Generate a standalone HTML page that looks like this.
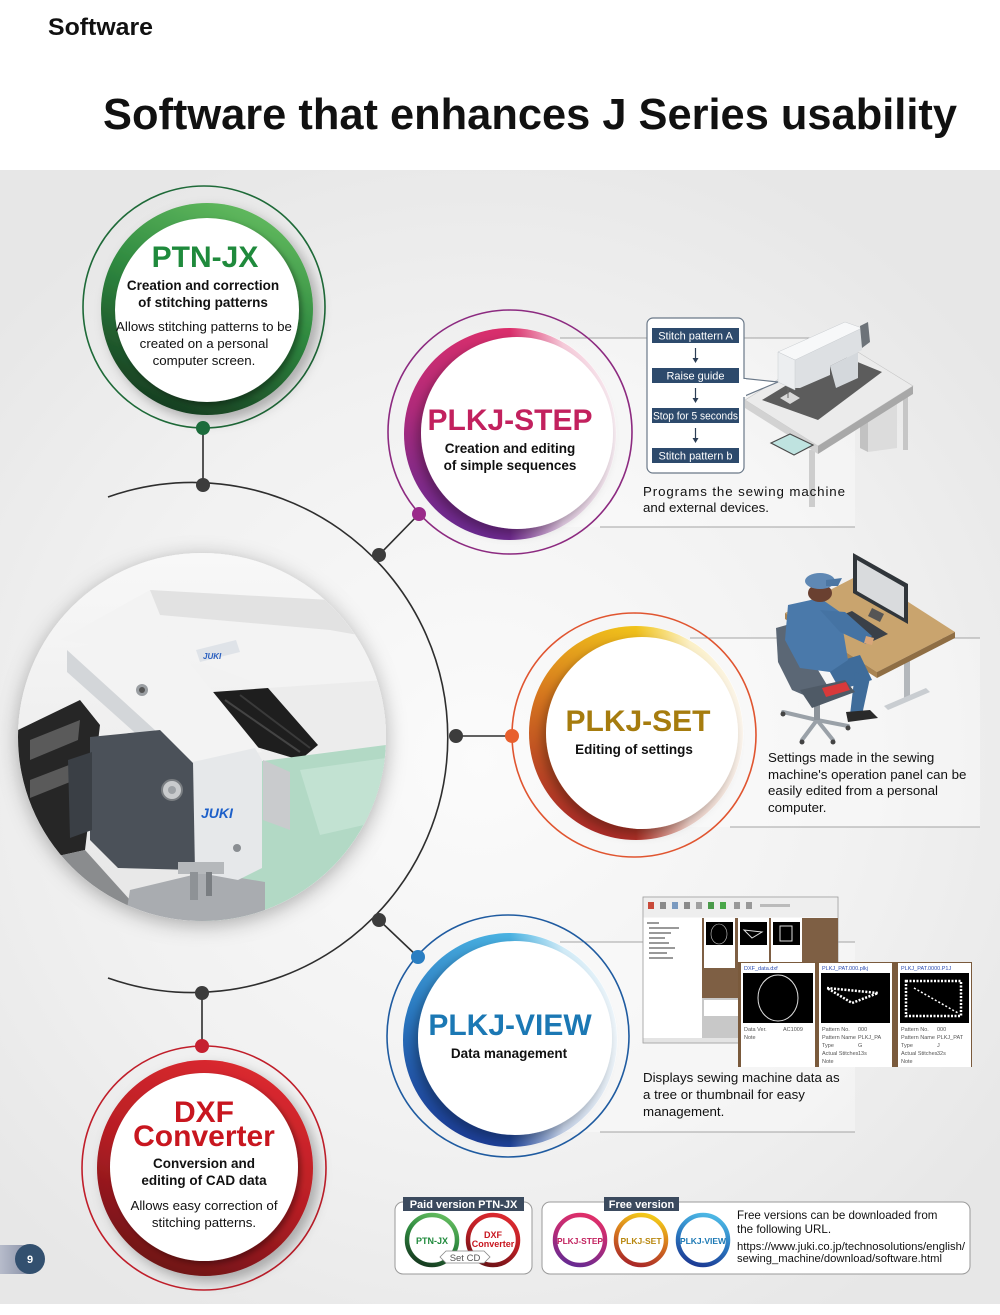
<!DOCTYPE html>
<html><head><meta charset="utf-8"><style>
html,body{margin:0;padding:0;background:#fff;}
svg{display:block;}
text{font-family:"Liberation Sans",Arial,sans-serif;}
</style></head><body>
<svg width="1000" height="1315" viewBox="0 0 1000 1315" xmlns="http://www.w3.org/2000/svg">
<defs>
 <radialGradient id="bg" cx="480" cy="760" r="650" gradientUnits="userSpaceOnUse">
  <stop offset="0" stop-color="#fbfbfb"/><stop offset="0.6" stop-color="#f1f1f1"/><stop offset="1" stop-color="#e7e7e7"/>
 </radialGradient>
 <linearGradient id="gGreen" x1="0.7" y1="0" x2="0.3" y2="1">
  <stop offset="0" stop-color="#63bb5f"/><stop offset="0.45" stop-color="#2f8a40"/><stop offset="1" stop-color="#163a20"/>
 </linearGradient>
 <linearGradient id="gRed" x1="0.7" y1="0" x2="0.3" y2="1">
  <stop offset="0" stop-color="#dc2a30"/><stop offset="0.5" stop-color="#b81e24"/><stop offset="1" stop-color="#6a1216"/>
 </linearGradient>
 <linearGradient id="gStep" x1="0.6" y1="0" x2="0.3" y2="1">
  <stop offset="0" stop-color="#de2f6a"/><stop offset="0.5" stop-color="#b02a7a"/><stop offset="1" stop-color="#662a92"/>
 </linearGradient>
 <linearGradient id="gSet" x1="0.6" y1="0" x2="0.3" y2="1">
  <stop offset="0" stop-color="#f2c81a"/><stop offset="0.45" stop-color="#d6761e"/><stop offset="1" stop-color="#a82628"/>
 </linearGradient>
 <linearGradient id="gView" x1="0.6" y1="0" x2="0.3" y2="1">
  <stop offset="0" stop-color="#4cb6e4"/><stop offset="0.5" stop-color="#2a78c0"/><stop offset="1" stop-color="#1c3a94"/>
 </linearGradient>
 <linearGradient id="fade" x1="0" y1="0" x2="1" y2="0">
  <stop offset="0" stop-color="#fff" stop-opacity="0"/>
  <stop offset="0.5" stop-color="#fff" stop-opacity="0"/>
  <stop offset="0.75" stop-color="#fff" stop-opacity="0.75"/>
  <stop offset="1" stop-color="#fff" stop-opacity="0.92"/>
 </linearGradient>
 <linearGradient id="pnum" x1="0" y1="0" x2="1" y2="0">
  <stop offset="0" stop-color="#b7bccb"/><stop offset="1" stop-color="#8890a6"/>
 </linearGradient>
 <linearGradient id="photoBg" x1="0" y1="0" x2="0" y2="1">
  <stop offset="0" stop-color="#f8f8f8"/><stop offset="1" stop-color="#e6e6e6"/>
 </linearGradient>
 <filter id="shOut" x="-25%" y="-25%" width="150%" height="150%">
  <feDropShadow dx="6" dy="6" stdDeviation="6" flood-color="#000" flood-opacity="0.28"/>
 </filter>
 <filter id="shIn" x="-25%" y="-25%" width="150%" height="150%">
  <feDropShadow dx="3" dy="3" stdDeviation="3" flood-color="#000" flood-opacity="0.35"/>
 </filter>
 <filter id="shL" x="-25%" y="-25%" width="150%" height="150%">
  <feDropShadow dx="-4" dy="5" stdDeviation="5" flood-color="#000" flood-opacity="0.3"/>
 </filter>
 <filter id="shPhoto" x="-25%" y="-25%" width="150%" height="150%">
  <feDropShadow dx="0" dy="4" stdDeviation="10" flood-color="#000" flood-opacity="0.3"/>
 </filter>
 <clipPath id="pc"><circle cx="202" cy="737" r="184"/></clipPath>
</defs>

<!-- background -->
<rect width="1000" height="1315" fill="#fff"/>
<rect x="0" y="170" width="1000" height="1134" fill="url(#bg)"/>

<!-- headings -->
<text x="48" y="35" font-size="24" font-weight="bold" fill="#111" textLength="105" lengthAdjust="spacingAndGlyphs">Software</text>
<text x="103" y="129" font-size="44" font-weight="bold" fill="#111" textLength="854" lengthAdjust="spacingAndGlyphs">Software that enhances J Series usability</text>

<!-- description panels and lines -->
<rect x="560" y="338" width="295" height="189" fill="#fff" opacity="0.35"/>
<line x1="560" y1="338" x2="855" y2="338" stroke="#a4a4a4" stroke-width="1"/>
<line x1="600" y1="527" x2="855" y2="527" stroke="#a4a4a4" stroke-width="1"/>
<rect x="690" y="638" width="290" height="189" fill="#fff" opacity="0.35"/>
<line x1="690" y1="638" x2="980" y2="638" stroke="#a4a4a4" stroke-width="1"/>
<line x1="730" y1="827" x2="980" y2="827" stroke="#a4a4a4" stroke-width="1"/>
<rect x="560" y="942" width="295" height="190" fill="#fff" opacity="0.35"/>
<line x1="560" y1="942" x2="855" y2="942" stroke="#a4a4a4" stroke-width="1"/>
<line x1="600" y1="1132" x2="855" y2="1132" stroke="#a4a4a4" stroke-width="1"/>

<!-- big arc -->
<path d="M 108 497 A 255 255 0 1 1 108 978" fill="none" stroke="#2e2e2e" stroke-width="1.6"/>
<!-- connectors -->
<line x1="203" y1="428" x2="203" y2="485" stroke="#2e2e2e" stroke-width="1.6"/>
<line x1="379" y1="555" x2="419" y2="514" stroke="#2e2e2e" stroke-width="1.6"/>
<line x1="456" y1="736" x2="512" y2="736" stroke="#2e2e2e" stroke-width="1.6"/>
<line x1="379" y1="920" x2="418" y2="957" stroke="#2e2e2e" stroke-width="1.6"/>
<line x1="202" y1="993" x2="202" y2="1046" stroke="#2e2e2e" stroke-width="1.6"/>

<!-- photo circle -->
<circle cx="202" cy="737" r="184" fill="#f2f2f2" filter="url(#shPhoto)"/>
<g clip-path="url(#pc)">
 <rect x="18" y="553" width="368" height="368" fill="url(#photoBg)"/>
 <!-- upper machine arm -->
 <polygon points="60,640 150,590 330,600 386,640 386,700 300,700 200,662" fill="#f3f3f3"/>
 <polygon points="150,590 330,600 386,640 330,630 160,615" fill="#e2e2e2"/>
 <polygon points="196,650 236,640 240,652 200,662" fill="#dfe3e8"/>
 <text x="203" y="659" font-size="8" font-weight="bold" font-style="italic" fill="#2a5fbf">JUKI</text>
 <!-- right frame -->
 <polygon points="268,688 386,680 386,748 320,752" fill="#ececec"/>
 <!-- dark slot right -->
 <polygon points="213,692 268,688 318,745 300,760 250,745" fill="#1e1e1e"/>
 <line x1="225" y1="700" x2="300" y2="752" stroke="#444" stroke-width="2"/>
 <line x1="240" y1="695" x2="310" y2="748" stroke="#3a3a3a" stroke-width="2"/>
 <!-- left dark area -->
 <polygon points="18,730 80,700 100,725 85,850 18,865" fill="#262626"/>
 <polygon points="30,740 80,720 78,740 30,760" fill="#5a5a5a"/>
 <polygon points="30,780 82,760 80,778 30,798" fill="#5a5a5a"/>
 <polygon points="18,865 85,850 130,900 130,921 18,921" fill="#8a8c8e"/>
 <!-- green table -->
 <polygon points="255,762 386,745 386,921 195,921 235,870" fill="#b2d9c5"/>
 <polygon points="300,770 386,758 386,820 320,835" fill="#c2e2d2"/>
 <!-- metal plate bottom -->
 <polygon points="130,890 205,872 265,882 265,921 125,921" fill="#a9acb0"/>
 <!-- main white arm -->
 <polygon points="67,650 160,627 262,752 190,762" fill="#f3f3f3"/>
 <polygon points="67,650 190,762 190,782 67,672" fill="#d3d6d9"/>
 <circle cx="142" cy="690" r="6" fill="#9a9ea2"/>
 <circle cx="142" cy="690" r="3" fill="#555"/>
 <!-- dark head block -->
 <polygon points="90,737 160,730 195,765 195,870 118,868 90,840" fill="#4b5159"/>
 <polygon points="68,760 92,752 92,830 70,838" fill="#3a3f45"/>
 <circle cx="172" cy="790" r="10" fill="#c9cbcd" stroke="#7a7e82" stroke-width="2"/>
 <circle cx="172" cy="790" r="4" fill="#9ea2a6"/>
 <!-- face plate -->
 <polygon points="193,762 255,748 262,760 262,868 238,880 195,872" fill="#e6e8ea"/>
 <text x="201" y="818" font-size="14" font-weight="bold" font-style="italic" fill="#1c5fc9">JUKI</text>
 <circle cx="237" cy="848" r="4" fill="#8a8e92"/>
 <!-- presser foot -->
 <rect x="178" y="862" width="46" height="12" fill="#b5b8bb"/>
 <rect x="190" y="872" width="8" height="28" fill="#8e9296"/>
 <rect x="206" y="872" width="6" height="24" fill="#7a7e82"/>
 <!-- right bracket -->
 <polygon points="263,760 290,772 290,830 263,820" fill="#c9cbcd"/>
</g>

<!-- arc nodes -->
<circle cx="203" cy="485" r="7" fill="#3c3c3c"/>
<circle cx="379" cy="555" r="7" fill="#3c3c3c"/>
<circle cx="456" cy="736" r="7" fill="#3c3c3c"/>
<circle cx="379" cy="920" r="7" fill="#3c3c3c"/>
<circle cx="202" cy="993" r="7" fill="#3c3c3c"/>

<!-- PTN-JX -->
<circle cx="204" cy="307" r="121" fill="none" stroke="#1e6a38" stroke-width="1.6"/>
<circle cx="207" cy="309" r="106" fill="url(#gGreen)" filter="url(#shOut)"/>
<circle cx="207" cy="310" r="92" fill="#fff" filter="url(#shIn)"/>
<circle cx="203" cy="428" r="7" fill="#1b6b3b"/>
<text x="205" y="267" font-size="30" font-weight="bold" fill="#1f8a3c" text-anchor="middle">PTN-JX</text>
<text x="203" y="290" font-size="13.5" font-weight="bold" fill="#111" text-anchor="middle">Creation and correction</text>
<text x="203" y="307" font-size="13.5" font-weight="bold" fill="#111" text-anchor="middle">of stitching patterns</text>
<text x="204" y="331" font-size="13.3" fill="#111" text-anchor="middle">Allows stitching patterns to be</text>
<text x="204" y="348" font-size="13.3" fill="#111" text-anchor="middle">created on a personal</text>
<text x="204" y="365" font-size="13.3" fill="#111" text-anchor="middle">computer screen.</text>

<!-- PLKJ-STEP -->
<circle cx="510" cy="432" r="122" fill="none" stroke="#8c2a80" stroke-width="1.6"/>
<circle cx="510" cy="434" r="106" fill="url(#gStep)"/>
<circle cx="510" cy="434" r="106.5" fill="url(#fade)"/>
<circle cx="517" cy="433" r="96" fill="#fff" filter="url(#shL)"/>
<circle cx="419" cy="514" r="7" fill="#9a2a8a"/>
<text x="510" y="430" font-size="30" font-weight="bold" fill="#c2215e" text-anchor="middle">PLKJ-STEP</text>
<text x="510" y="453" font-size="13.5" font-weight="bold" fill="#111" text-anchor="middle">Creation and editing</text>
<text x="510" y="470" font-size="13.5" font-weight="bold" fill="#111" text-anchor="middle">of simple sequences</text>

<!-- machine on table -->
<rect x="903" y="390" width="5" height="60" fill="#c6c6c6"/>
<polygon points="868,408 897,396 897,448 868,452" fill="#dcdcdc"/>
<polygon points="860,404 868,408 868,452 860,448" fill="#c2c2c2"/>
<rect x="809" y="450" width="6" height="57" fill="#cdcdcd"/>
<polygon points="745,400 840,341 913,386 818,446" fill="#ebebeb" stroke="#c4c4c4" stroke-width="0.6"/>
<polygon points="745,400 818,446 818,454 745,408" fill="#d2d2d2"/>
<polygon points="818,446 913,386 913,394 818,454" fill="#a8a8a8"/>
<polygon points="762,400 838,354 882,372 818,420" fill="#5c5c5c"/>
<polygon points="780,398 790,392 800,398 790,404" fill="#d8d8d8"/>
<polygon points="771,443 790,434 813,445 794,455" fill="#bfe3e0" stroke="#4a4a4a" stroke-width="1.2"/>
<!-- machine body -->
<polygon points="830,366 858,352 858,378 836,388" fill="#d4d8dc"/>
<polygon points="795,360 862,328 862,350 830,366 830,375 800,388 795,388" fill="#dde0e3"/>
<polygon points="778,352 845,322 862,328 795,360" fill="#f7f8f9" stroke="#c8ccd0" stroke-width="0.5"/>
<polygon points="778,352 795,360 795,390 778,382" fill="#eceef0" stroke="#c8ccd0" stroke-width="0.5"/>
<polygon points="860,326 868,322 870,342 862,348" fill="#6d7379"/>
<line x1="788" y1="388" x2="788" y2="398" stroke="#666" stroke-width="1"/>

<!-- flowchart callout -->
<polygon points="740,378 778,382 740,398" fill="#fff" stroke="#6a7888" stroke-width="1.2"/>
<rect x="647" y="318" width="97" height="155" rx="6" fill="#fff" stroke="#6a7888" stroke-width="1.2"/>
<rect x="741" y="379" width="5" height="18" fill="#fff"/>
<rect x="652" y="328" width="87" height="15" fill="#2d4a6c"/>
<rect x="652" y="368" width="87" height="15" fill="#2d4a6c"/>
<rect x="652" y="408" width="87" height="15" fill="#2d4a6c"/>
<rect x="652" y="448" width="87" height="15" fill="#2d4a6c"/>
<text x="695.5" y="339.5" font-size="11" fill="#fff" text-anchor="middle">Stitch pattern A</text>
<text x="695.5" y="379.5" font-size="11" fill="#fff" text-anchor="middle">Raise guide</text>
<text x="695.5" y="419.5" font-size="11" fill="#fff" text-anchor="middle" textLength="85" lengthAdjust="spacingAndGlyphs">Stop for 5 seconds</text>
<text x="695.5" y="459.5" font-size="11" fill="#fff" text-anchor="middle">Stitch pattern b</text>
<g stroke="#2d3e55" stroke-width="1.2" fill="#2d3e55">
 <line x1="695.5" y1="348" x2="695.5" y2="360"/><polygon points="692.5,358 698.5,358 695.5,363" stroke="none"/>
 <line x1="695.5" y1="388" x2="695.5" y2="400"/><polygon points="692.5,398 698.5,398 695.5,403" stroke="none"/>
 <line x1="695.5" y1="428" x2="695.5" y2="440"/><polygon points="692.5,438 698.5,438 695.5,443" stroke="none"/>
</g>
<text x="643" y="496" font-size="13.3" fill="#111" textLength="202" lengthAdjust="spacing">Programs the sewing machine</text>
<text x="643" y="512" font-size="13.3" fill="#111" textLength="126" lengthAdjust="spacing">and external devices.</text>

<!-- PLKJ-SET -->
<circle cx="634" cy="735" r="122" fill="none" stroke="#e05530" stroke-width="1.6"/>
<circle cx="636" cy="733" r="107" fill="url(#gSet)"/>
<circle cx="636" cy="733" r="107.5" fill="url(#fade)"/>
<circle cx="642" cy="733" r="96" fill="#fff" filter="url(#shL)"/>
<circle cx="512" cy="736" r="7" fill="#e8602e"/>
<text x="638" y="731" font-size="30" font-weight="bold" fill="#a67c0e" text-anchor="middle">PLKJ-SET</text>
<text x="634" y="754" font-size="13.5" font-weight="bold" fill="#111" text-anchor="middle">Editing of settings</text>

<!-- person at desk -->
<rect x="904" y="660" width="6" height="38" fill="#b3b7bb"/>
<polygon points="884,706 926,688 930,692 888,710" fill="#c9cdd1"/>
<polygon points="785,613 863,573 955,632 877,672" fill="#c9a46e"/>
<polygon points="785,613 877,672 877,678 785,619" fill="#a98452"/>
<polygon points="877,672 955,632 955,638 877,678" fill="#8f6e44"/>
<polygon points="853,553 908,584 908,624 853,593" fill="#30353a"/>
<polygon points="857,560 904,587 904,618 857,591" fill="#d9dbdd"/>
<polygon points="872,608 884,614 880,622 868,616" fill="#555"/>
<polygon points="835,618 852,611 888,634 871,642" fill="#3a4048"/>
<g stroke="#9aa1a8" stroke-width="4" stroke-linecap="round">
 <line x1="817" y1="720" x2="783" y2="712"/><line x1="817" y1="720" x2="802" y2="740"/>
 <line x1="817" y1="720" x2="833" y2="740"/><line x1="817" y1="720" x2="848" y2="726"/>
</g>
<g fill="#444"><circle cx="783" cy="714" r="2.5"/><circle cx="802" cy="742" r="2.5"/><circle cx="833" cy="742" r="2.5"/><circle cx="848" cy="728" r="2.5"/></g>
<rect x="814" y="702" width="6" height="18" fill="#8c939a"/>
<polygon points="826,665 860,655 872,680 840,690" fill="#3f6c9a"/>
<polygon points="855,672 870,678 862,715 850,715" fill="#3f6c9a"/>
<polygon points="846,712 870,710 878,718 848,722" fill="#2a2a2a"/>
<polygon points="776,628 790,624 812,660 830,690 820,702 792,690 778,662" fill="#5b6775"/>
<polygon points="788,605 820,598 840,612 848,660 830,672 800,668 785,640" fill="#4a79aa"/>
<polygon points="820,610 845,612 872,636 866,644 840,632" fill="#4573a3"/>
<polygon points="866,636 874,638 872,645 864,643" fill="#d9a67a"/>
<polygon points="800,690 845,680 855,692 812,708" fill="#4f5a66"/>
<polygon points="822,688 846,682 850,690 826,697" fill="#d9393a"/>
<ellipse cx="820" cy="593" rx="12" ry="9" fill="#6a4030"/>
<ellipse cx="820" cy="581" rx="15" ry="8" fill="#5f88b4"/>
<polygon points="826,580 842,578 838,586 826,586" fill="#4c76a2"/>

<text x="768" y="762" font-size="13.3" fill="#111">Settings made in the sewing</text>
<text x="768" y="779" font-size="13.3" fill="#111">machine's operation panel can be</text>
<text x="768" y="795" font-size="13.3" fill="#111">easily edited from a personal</text>
<text x="768" y="812" font-size="13.3" fill="#111">computer.</text>

<!-- PLKJ-VIEW -->
<circle cx="508" cy="1036" r="121" fill="none" stroke="#1f5ba0" stroke-width="1.6"/>
<circle cx="510" cy="1040" r="107" fill="url(#gView)"/>
<circle cx="510" cy="1040" r="107.5" fill="url(#fade)"/>
<circle cx="515" cy="1038" r="97" fill="#fff" filter="url(#shL)"/>
<circle cx="418" cy="957" r="7" fill="#2a7ec2"/>
<text x="510" y="1035" font-size="30" font-weight="bold" fill="#1b78b4" text-anchor="middle">PLKJ-VIEW</text>
<text x="509" y="1058" font-size="13.5" font-weight="bold" fill="#111" text-anchor="middle">Data management</text>

<!-- screenshots -->
<rect x="643" y="897" width="195" height="146" fill="#fff" stroke="#999" stroke-width="0.8"/>
<rect x="643.5" y="897.5" width="194" height="20" fill="#eeeeee"/>
<g>
 <rect x="648" y="902" width="6" height="7" fill="#c84a3a"/><rect x="660" y="902" width="6" height="7" fill="#8a8a8a"/>
 <rect x="672" y="902" width="6" height="7" fill="#7a9ac0"/><rect x="684" y="902" width="6" height="7" fill="#8a8a8a"/>
 <rect x="696" y="902" width="6" height="7" fill="#a0a0a0"/><rect x="708" y="902" width="6" height="7" fill="#4a9a4a"/>
 <rect x="720" y="902" width="6" height="7" fill="#4aa84a"/><rect x="734" y="902" width="6" height="7" fill="#999"/>
 <rect x="746" y="902" width="6" height="7" fill="#999"/><rect x="760" y="904" width="30" height="3" fill="#bbb"/>
</g>
<g fill="#999">
 <rect x="647" y="922" width="12" height="2"/><rect x="649" y="927" width="30" height="2"/><rect x="649" y="932" width="22" height="2"/>
 <rect x="649" y="937" width="16" height="2"/><rect x="649" y="942" width="20" height="2"/><rect x="649" y="947" width="26" height="2"/>
 <rect x="649" y="952" width="18" height="2"/><rect x="649" y="957" width="24" height="2"/>
</g>
<rect x="702" y="918" width="136" height="122" fill="#7e5f44"/>
<rect x="704" y="918" width="31" height="50" fill="#fff"/><rect x="706" y="922" width="27" height="23" fill="#000"/>
<rect x="738" y="918" width="31" height="50" fill="#fff"/><rect x="740" y="922" width="27" height="23" fill="#000"/>
<rect x="771" y="918" width="31" height="50" fill="#fff"/><rect x="773" y="922" width="27" height="23" fill="#000"/>
<ellipse cx="719" cy="934" rx="8" ry="10" fill="none" stroke="#ccc" stroke-width="0.6"/>
<polygon points="744,930 762,932 752,938" fill="none" stroke="#ddd" stroke-width="1"/>
<rect x="780" y="926" width="12" height="15" fill="none" stroke="#ddd" stroke-width="1"/>
<rect x="702" y="998" width="38" height="42" fill="#c8c8c8"/>
<rect x="704" y="1000" width="34" height="16" fill="#fff"/>
<rect x="643.5" y="1038" width="194" height="4.5" fill="#e4e4e4"/>
<rect x="738" y="962" width="234" height="105" fill="#7a5a3c"/>
<rect x="741" y="963" width="74" height="104" fill="#fff"/>
<rect x="819" y="963" width="73" height="104" fill="#fff"/>
<rect x="898" y="963" width="73" height="104" fill="#fff"/>
<rect x="743" y="973" width="70" height="50" fill="#000"/>
<rect x="821" y="973" width="69" height="50" fill="#000"/>
<rect x="900" y="973" width="69" height="50" fill="#000"/>
<ellipse cx="778" cy="998" rx="20" ry="23" fill="none" stroke="#ddd" stroke-width="1"/>
<polyline points="827,988 878,993 852,1003 827,988" fill="none" stroke="#fff" stroke-width="2.5" stroke-dasharray="2 1.5"/>
<rect x="906" y="981" width="55" height="35" fill="none" stroke="#fff" stroke-width="2.5" stroke-dasharray="2 1.5"/>
<line x1="914" y1="988" x2="958" y2="1013" stroke="#fff" stroke-width="1.5" stroke-dasharray="2 2"/>
<g font-size="5.5" fill="#555">
 <text x="744" y="970" fill="#2a4ab0">DXF_data.dxf</text>
 <text x="822" y="970" fill="#2a4ab0">PLKJ_PAT.000.plkj</text>
 <text x="901" y="970" fill="#2a4ab0">PLKJ_PAT.0000.P1J</text>
 <text x="744" y="1031">Data Ver.</text><text x="783" y="1031">AC1009</text><text x="744" y="1039">Note</text>
 <text x="822" y="1031">Pattern No.</text><text x="858" y="1031">000</text>
 <text x="822" y="1039">Pattern Name</text><text x="858" y="1039">PLKJ_PA</text>
 <text x="822" y="1047">Type</text><text x="858" y="1047">G</text>
 <text x="822" y="1055">Actual Stitches</text><text x="858" y="1055">13s</text>
 <text x="822" y="1063">Note</text>
 <text x="901" y="1031">Pattern No.</text><text x="937" y="1031">000</text>
 <text x="901" y="1039">Pattern Name</text><text x="937" y="1039">PLKJ_PAT</text>
 <text x="901" y="1047">Type</text><text x="937" y="1047">J</text>
 <text x="901" y="1055">Actual Stitches</text><text x="937" y="1055">32s</text>
 <text x="901" y="1063">Note</text>
</g>
<text x="643" y="1082" font-size="13.3" fill="#111">Displays sewing machine data as</text>
<text x="643" y="1099" font-size="13.3" fill="#111">a tree or thumbnail for easy</text>
<text x="643" y="1116" font-size="13.3" fill="#111">management.</text>

<!-- DXF Converter -->
<circle cx="204" cy="1168" r="122" fill="none" stroke="#c01e2a" stroke-width="1.6"/>
<circle cx="205" cy="1168" r="108" fill="url(#gRed)" filter="url(#shOut)"/>
<circle cx="204" cy="1167" r="94" fill="#fff" filter="url(#shIn)"/>
<circle cx="202" cy="1046" r="7" fill="#c52030"/>
<text x="204" y="1122" font-size="30" font-weight="bold" fill="#c8161f" text-anchor="middle">DXF</text>
<text x="204" y="1146" font-size="30" font-weight="bold" fill="#c8161f" text-anchor="middle">Converter</text>
<text x="204" y="1168" font-size="13.5" font-weight="bold" fill="#111" text-anchor="middle">Conversion and</text>
<text x="204" y="1185" font-size="13.5" font-weight="bold" fill="#111" text-anchor="middle">editing of CAD data</text>
<text x="204" y="1210" font-size="13.3" fill="#111" text-anchor="middle">Allows easy correction of</text>
<text x="204" y="1227" font-size="13.3" fill="#111" text-anchor="middle">stitching patterns.</text>

<!-- page number -->
<rect x="0" y="1245" width="30" height="29" fill="url(#pnum)"/>
<circle cx="30" cy="1259" r="15" fill="#33506f"/>
<text x="30" y="1263" font-size="11" font-weight="bold" fill="#fff" text-anchor="middle">9</text>

<!-- legend: paid -->
<rect x="395" y="1202" width="137" height="72" rx="8" fill="#fff" stroke="#9a9a9a" stroke-width="1"/>
<rect x="403" y="1197" width="121" height="14" fill="#3b4a5e"/>
<text x="463.5" y="1208" font-size="11" font-weight="bold" fill="#fff" text-anchor="middle">Paid version PTN-JX</text>
<circle cx="432" cy="1240" r="25" fill="#fff" stroke="url(#gGreen)" stroke-width="4.5"/>
<circle cx="493" cy="1240" r="25" fill="#fff" stroke="url(#gRed)" stroke-width="4.5"/>
<text x="432" y="1244" font-size="9" font-weight="bold" fill="#1f8a3c" text-anchor="middle">PTN-JX</text>
<text x="493" y="1238" font-size="9" font-weight="bold" fill="#c8161f" text-anchor="middle">DXF</text>
<text x="493" y="1247" font-size="9" font-weight="bold" fill="#c8161f" text-anchor="middle">Converter</text>
<polygon points="440,1257 446,1251 484,1251 490,1257 484,1263 446,1263" fill="#fff" stroke="#888" stroke-width="0.8"/>
<text x="465" y="1261" font-size="9.5" fill="#555" text-anchor="middle">Set CD</text>

<!-- legend: free -->
<rect x="542" y="1202" width="428" height="72" rx="8" fill="#fff" stroke="#9a9a9a" stroke-width="1"/>
<rect x="604" y="1197" width="75" height="14" fill="#3b4a5e"/>
<text x="641.5" y="1208" font-size="11" font-weight="bold" fill="#fff" text-anchor="middle">Free version</text>
<circle cx="580" cy="1240" r="25" fill="#fff" stroke="url(#gStep)" stroke-width="4.5"/>
<circle cx="641" cy="1240" r="25" fill="#fff" stroke="url(#gSet)" stroke-width="4.5"/>
<circle cx="703" cy="1240" r="25" fill="#fff" stroke="url(#gView)" stroke-width="4.5"/>
<text x="580" y="1244" font-size="8.5" font-weight="bold" fill="#c2215e" text-anchor="middle" textLength="46" lengthAdjust="spacingAndGlyphs">PLKJ-STEP</text>
<text x="641" y="1244" font-size="8.5" font-weight="bold" fill="#b8870e" text-anchor="middle">PLKJ-SET</text>
<text x="703" y="1244" font-size="8.5" font-weight="bold" fill="#1b78b4" text-anchor="middle" textLength="46" lengthAdjust="spacingAndGlyphs">PLKJ-VIEW</text>
<text x="737" y="1219" font-size="11.6" fill="#111">Free versions can be downloaded from</text>
<text x="737" y="1233" font-size="11.6" fill="#111">the following URL.</text>
<text x="737" y="1250" font-size="11" fill="#111" textLength="228" lengthAdjust="spacingAndGlyphs">https://www.juki.co.jp/technosolutions/english/</text>
<text x="737" y="1262" font-size="11" fill="#111" textLength="205" lengthAdjust="spacingAndGlyphs">sewing_machine/download/software.html</text>
</svg>
</body></html>
